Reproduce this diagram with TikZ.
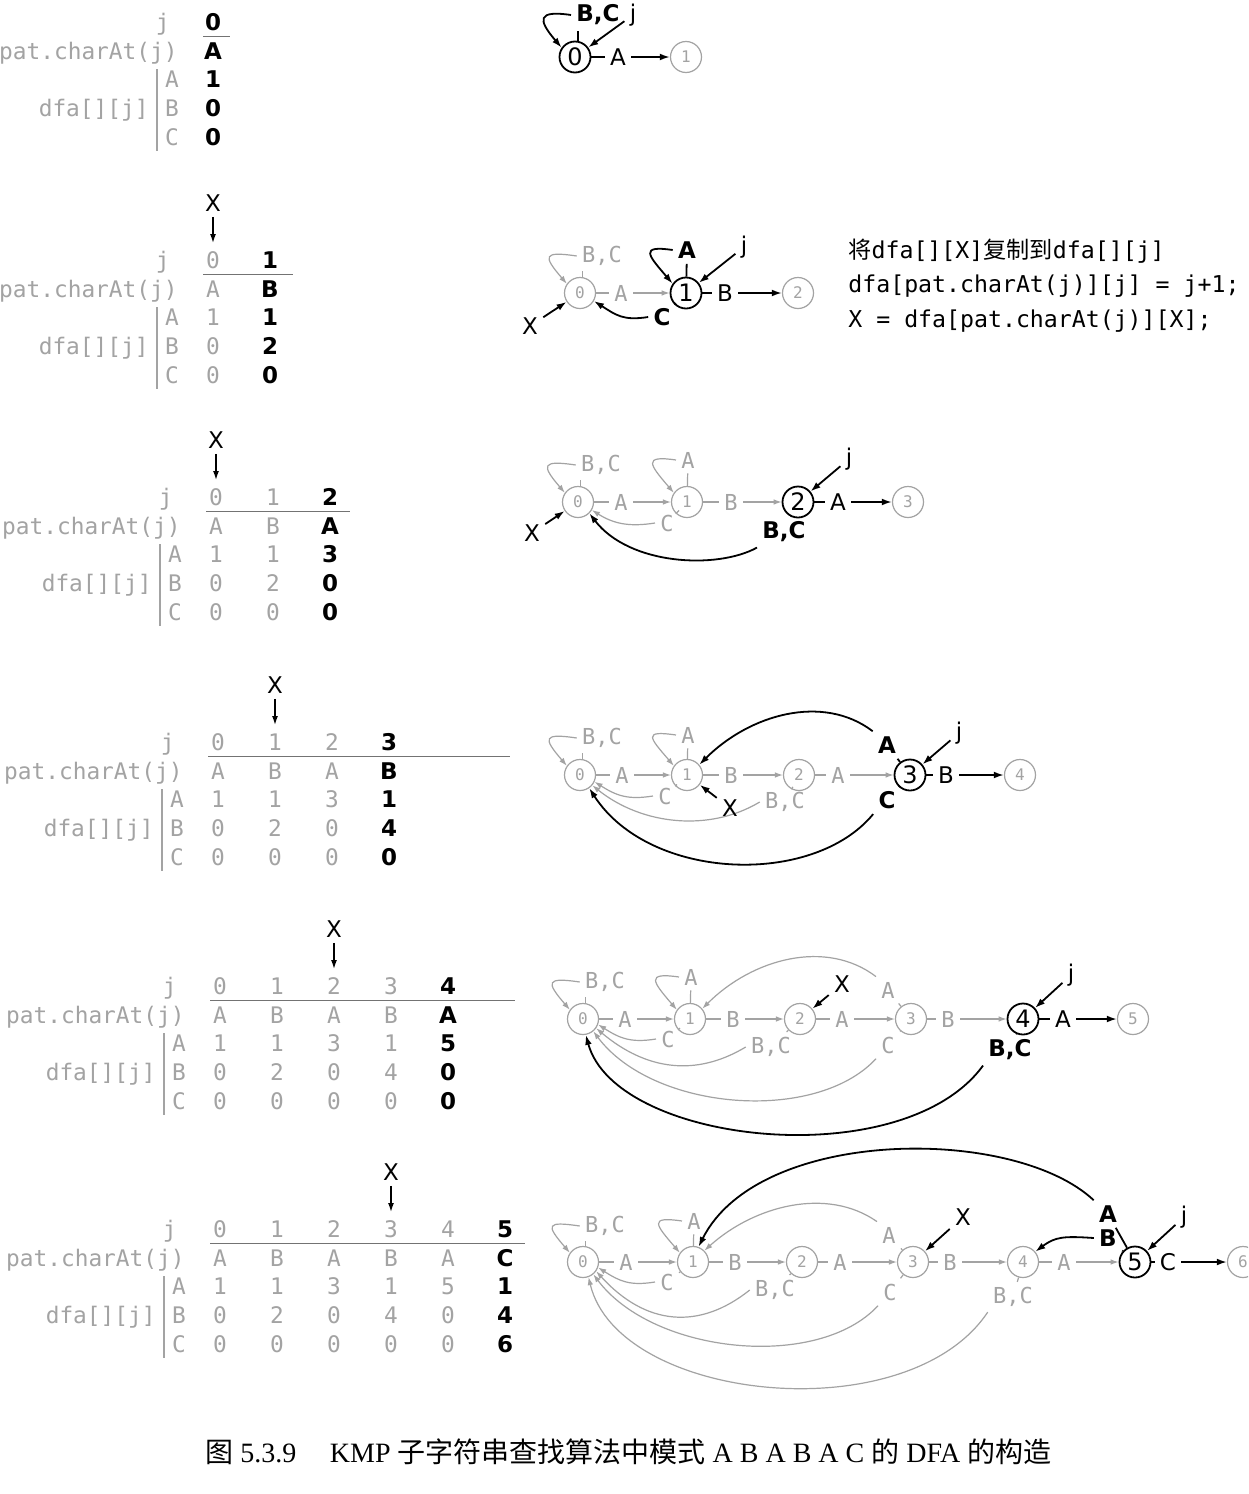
\documentclass[tikz,border=0pt]{standalone}
\usepackage{fontspec}
\setmainfont{Liberation Serif}
\newfontfamily\lab{DejaVu Sans}
\newfontfamily\mono{DejaVu Sans Mono}
\newfontfamily\cjk{Noto Sans CJK SC}
\usetikzlibrary{arrows.meta}
\definecolor{lg}{gray}{0.64}
\tikzset{
  stB/.style={circle,draw=black,line width=0.9pt,minimum size=15.5pt,inner sep=0pt,font=\lab\fontsize{12}{12}\selectfont},
  stG/.style={circle,draw=lg,line width=0.6pt,minimum size=15.5pt,inner sep=0pt,text=lg,font=\mono\fontsize{8}{8}\selectfont},
  lbG/.style={text=lg,font=\mono\fontsize{11}{11}\selectfont,inner sep=2.5pt},
  lbR/.style={font=\lab\fontsize{11.5}{11.5}\selectfont,inner sep=2.5pt},
  lbB/.style={font=\lab\bfseries\fontsize{11.5}{11.5}\selectfont,inner sep=2.5pt},
  eG/.style={draw=lg,line width=0.6pt},
  eB/.style={draw=black,line width=0.9pt},
  aG/.style={eG,-{Latex[length=4pt,width=2.8pt]}},
  aB/.style={eB,-{Latex[length=5pt,width=3.4pt]}},
  aX/.style={draw=black,line width=0.7pt,-{Latex[length=4.5pt,width=3pt]}},
  tG/.style={text=lg,font=\mono\fontsize{11.4}{11.4}\selectfont,inner sep=0pt,anchor=base},
  tB/.style={font=\lab\bfseries\fontsize{11.5}{11.5}\selectfont,inner sep=0pt,anchor=base},
  code/.style={font=\mono\fontsize{11.6}{11.6}\selectfont,inner sep=0pt,anchor=base west},
}
% table: #1 prefix, #2 x0, #3 yj, #4 current column, #5 rule end (relative)
\newcommand\kmptab[5]{%
\begin{scope}[shift={(#2,#3)}]
 \node[tG,anchor=base east] (#1j) at (-43,8.5) {j};
 \node[tG,anchor=base east] (#1p) at (-35,37.5) {pat.charAt(j)};
 \node[tG,anchor=base east] (#1d) at (-64,94.5) {dfa[][j]};
 \node[tG] (#1ra) at (-41,65.5) {A};
 \node[tG] (#1rb) at (-41,94.5) {B};
 \node[tG] (#1rc) at (-41,123.5) {C};
 \draw[lg,line width=1.1pt] (-56,47) -- (-56,129);
 \draw[black!55,line width=0.5pt] (-10,14) -- (#5,14);
 \foreach \k/\pc/\va/\vb/\vc in {0/A/1/0/0,1/B/1/2/0,2/A/3/0/0,3/B/1/4/0,4/A/5/0/0,5/C/1/4/6}{
   \ifnum\k<#4
     \node[tG] (#1c\k j) at ({57*\k},8.5) {\k};
     \node[tG] (#1c\k p) at ({57*\k},37.5) {\pc};
     \node[tG] (#1c\k a) at ({57*\k},65.5) {\va};
     \node[tG] (#1c\k b) at ({57*\k},94.5) {\vb};
     \node[tG] (#1c\k c) at ({57*\k},123.5) {\vc};
   \else\ifnum\k=#4
     \node[tB] (#1c\k j) at ({57*\k},8.5) {\k};
     \node[tB] (#1c\k p) at ({57*\k},37.5) {\pc};
     \node[tB] (#1c\k a) at ({57*\k},65.5) {\va};
     \node[tB] (#1c\k b) at ({57*\k},94.5) {\vb};
     \node[tB] (#1c\k c) at ({57*\k},123.5) {\vc};
   \fi\fi
 }
\end{scope}}
% X marker above a table column: #1 prefix, #2 x, #3 yj
\newcommand\tabX[3]{%
 \node[lbR] (#1X) at (#2,#3-57) {X};
 \coordinate (#1Xt) at (#2,#3-17);
 \draw[aX] (#1X) -- (#1Xt);}
% self loop: #1 style, #2 label node, #3 state node
\newcommand\sloop[3]{\draw[#1] (#2.west) .. controls +(-34,-5) and +(-24,-28) .. (#3.145);}
\begin{document}
\begin{tikzpicture}[x=0.5pt,y=-0.5pt]
\useasboundingbox (0,0) rectangle (1248,1494);
\fill[white] (0,0) rectangle (1248,1494);
\clip (0,0) rectangle (1248,1494);

% ---------------- tables ----------------
\kmptab{tA}{213}{22}{0}{17}
\kmptab{tB}{213}{260}{1}{80}
\kmptab{tC}{216}{497}{2}{134}
\kmptab{tD}{218}{742}{3}{292}
\kmptab{tE}{220}{986}{4}{295}
\kmptab{tF}{220}{1229}{5}{305}
\tabX{tB}{213}{260}
\tabX{tC}{216}{497}
\tabX{tD}{275}{742}
\tabX{tE}{334}{986}
\tabX{tF}{391}{1229}

% ---------------- stage 0 ----------------
\node[stB] (a0) at (575,57) {0};
\node[stG] (a1) at (686,57) {1};
\node[lbR] (a0A) at (618,57) {A};
\draw[eB] (a0) -- (a0A); \draw[aB] (a0A) -- (a1);
\node[lbB] (a0L) at (598,15) {B,C};
\draw[eB] (a0.80) -- (a0.80 |- a0L.south);
\sloop{aB}{a0L}{a0}
\node[lbR] (aj) at (633,15) {j};
\draw[aB] (aj) -- (a0);

% ---------------- stage 1 ----------------
\node[stG] (b0) at (580,293) {0};
\node[stB] (b1) at (686,293) {1};
\node[stG] (b2) at (798,293) {2};
\node[lbG] (b0L) at (602,256) {B,C};
\draw[eG] (b0.80) -- (b0.80 |- b0L.south);
\sloop{aG}{b0L}{b0}
\node[lbG] (b0A) at (621,293) {A};
\draw[eG] (b0) -- (b0A); \draw[aG] (b0A) -- (b1);
\node[lbB] (b1L) at (687,250) {A};
\draw[eB] (b1) -- (b1L);
\sloop{aB}{b1L}{b1}
\node[lbR] (bj) at (744,247) {j};
\draw[aB] (bj) -- (b1);
\node[lbR] (b1B) at (725,293) {B};
\draw[eB] (b1) -- (b1B); \draw[aB] (b1B) -- (b2);
\node[lbB] (b1C) at (662,317) {C};
\draw[eB] (b1) -- (b1C);
\draw[aB] (b1C.west) .. controls +(-25,4) and +(22,14) .. (b0.-30);
\node[lbR] (bX) at (530,326) {X};
\draw[aB] (bX) -- (b0);
\node[code] (code1) at (848,258) {{\cjk 将}dfa[][X]{\cjk 复制到}dfa[][j]};
\node[code] (code2) at (848,292) {dfa[pat.charAt(j)][j] = j+1;};
\node[code] (code3) at (848,327) {X = dfa[pat.charAt(j)][X];};

% ---------------- stage 2 ----------------
\node[stG] (c0) at (578,502) {0};
\node[stG] (c1) at (687,502) {1};
\node[stB] (c2) at (798,502) {2};
\node[stG] (c3) at (908,502) {3};
\node[lbG] (c0L) at (601,465) {B,C};
\draw[eG] (c0.80) -- (c0.80 |- c0L.south);
\sloop{aG}{c0L}{c0}
\node[lbG] (c0A) at (621,502) {A};
\draw[eG] (c0) -- (c0A); \draw[aG] (c0A) -- (c1);
\node[lbG] (c1L) at (688,460) {A};
\draw[eG] (c1) -- (c1L);
\sloop{aG}{c1L}{c1}
\node[lbG] (c1C) at (667,523) {C};
\draw[eG] (c1) -- (c1C);
\draw[aG] (c1C.west) .. controls +(-25,4) and +(22,14) .. (c0.-30);
\node[lbG] (c1B) at (731,502) {B};
\draw[eG] (c1) -- (c1B); \draw[aG] (c1B) -- (c2);
\node[lbR] (cj) at (849,459) {j};
\draw[aB] (cj) -- (c2);
\node[lbR] (c2A) at (838,502) {A};
\draw[eB] (c2) -- (c2A); \draw[aB] (c2A) -- (c3);
\node[lbB] (c2BC) at (784,532) {B,C};
\draw[eB] (c2) -- (c2BC);
\draw[aB] (c2BC.south west) .. controls +(-40,22) and +(40,52) .. (c0.-45);
\node[lbR] (cX) at (532,533) {X};
\draw[aB] (cX) -- (c0);

% ---------------- stage 3 ----------------
\node[stG] (d0) at (580,775) {0};
\node[stG] (d1) at (687,775) {1};
\node[stG] (d2) at (799,775) {2};
\node[stB] (d3) at (910,775) {3};
\node[stG] (d4) at (1020,775) {4};
\node[lbG] (d0L) at (602,738) {B,C};
\draw[eG] (d0.80) -- (d0.80 |- d0L.south);
\sloop{aG}{d0L}{d0}
\node[lbG] (d0A) at (622,775) {A};
\draw[eG] (d0) -- (d0A); \draw[aG] (d0A) -- (d1);
\node[lbG] (d1L) at (688,735) {A};
\draw[eG] (d1) -- (d1L);
\sloop{aG}{d1L}{d1}
\node[lbG] (d1C) at (665,796) {C};
\draw[eG] (d1) -- (d1C);
\draw[aG] (d1C.west) .. controls +(-25,4) and +(22,14) .. (d0.-25);
\node[lbG] (d1B) at (731,775) {B};
\draw[eG] (d1) -- (d1B); \draw[aG] (d1B) -- (d2);
\node[lbG] (d2A) at (838,775) {A};
\draw[eG] (d2) -- (d2A); \draw[aG] (d2A) -- (d3);
\node[lbG] (d2BC) at (785,802) {B,C};
\draw[eG] (d2) -- (d2BC);
\draw[aG] (d2BC.west) .. controls +(-50,30) and +(50,40) .. (d0.-40);
\node[lbR] (d3B) at (946,775) {B};
\draw[eB] (d3) -- (d3B); \draw[aB] (d3B) -- (d4);
\node[lbR] (dj) at (959,733) {j};
\draw[aB] (dj) -- (d3);
\node[lbB] (d3A) at (887,745) {A};
\draw[eB] (d3) -- (d3A);
\draw[aB] (d3A.north west) .. controls +(-50,-38) and +(50,-50) .. (d1.40);
\node[lbB] (d3C) at (887,800) {C};
\draw[eB] (d3) -- (d3C);
\draw[aB] (d3C.south west) .. controls +(-60,73) and +(60,93) .. (d0.-55);
\node[lbR] (dX) at (730,808) {X};
\draw[aB] (dX) -- (d1);

% ---------------- stage 4 ----------------
\node[stG] (e0) at (583,1019) {0};
\node[stG] (e1) at (690,1019) {1};
\node[stG] (e2) at (800,1019) {2};
\node[stG] (e3) at (911,1019) {3};
\node[stB] (e4) at (1023,1019) {4};
\node[stG] (e5) at (1133,1019) {5};
\node[lbG] (e0L) at (605,982) {B,C};
\draw[eG] (e0.80) -- (e0.80 |- e0L.south);
\sloop{aG}{e0L}{e0}
\node[lbG] (e0A) at (625,1019) {A};
\draw[eG] (e0) -- (e0A); \draw[aG] (e0A) -- (e1);
\node[lbG] (e1L) at (691,977) {A};
\draw[eG] (e1) -- (e1L);
\sloop{aG}{e1L}{e1}
\node[lbG] (e1C) at (668,1039) {C};
\draw[eG] (e1) -- (e1C);
\draw[aG] (e1C.west) .. controls +(-25,4) and +(22,14) .. (e0.-20);
\node[lbG] (e1B) at (733,1019) {B};
\draw[eG] (e1) -- (e1B); \draw[aG] (e1B) -- (e2);
\node[lbG] (e2A) at (842,1019) {A};
\draw[eG] (e2) -- (e2A); \draw[aG] (e2A) -- (e3);
\node[lbG] (e2BC) at (771,1047) {B,C};
\draw[eG] (e2) -- (e2BC);
\draw[aG] (e2BC.west) .. controls +(-50,30) and +(50,42) .. (e0.-35);
\node[lbG] (e3B) at (948,1019) {B};
\draw[eG] (e3) -- (e3B); \draw[aG] (e3B) -- (e4);
\node[lbG] (e3A) at (888,990) {A};
\draw[eG] (e3) -- (e3A);
\draw[aG] (e3A.north west) .. controls +(-50,-38) and +(50,-50) .. (e1.40);
\node[lbG] (e3C) at (888,1045) {C};
\draw[eG] (e3) -- (e3C);
\draw[aG] (e3C.south west) .. controls +(-60,65) and +(60,80) .. (e0.-50);
\node[lbR] (e4A) at (1063,1019) {A};
\draw[eB] (e4) -- (e4A); \draw[aB] (e4A) -- (e5);
\node[lbR] (ej) at (1071,975) {j};
\draw[aB] (ej) -- (e4);
\node[lbR] (eX) at (842,984) {X};
\draw[aB] (eX) -- (e2);
\node[lbB] (e4BC) at (1010,1050) {B,C};
\draw[eB] (e4) -- (e4BC);
\draw[aB] (e4BC.south west) .. controls +(-80,110) and +(30,110) .. (e0.-80);

% ---------------- stage 5 ----------------
\node[stG] (f0) at (583,1262) {0};
\node[stG] (f1) at (693,1262) {1};
\node[stG] (f2) at (802,1262) {2};
\node[stG] (f3) at (913,1262) {3};
\node[stG] (f4) at (1023,1262) {4};
\node[stB] (f5) at (1135,1262) {5};
\node[stG] (f6) at (1243,1262) {6};
\node[lbG] (f0L) at (605,1226) {B,C};
\draw[eG] (f0.80) -- (f0.80 |- f0L.south);
\sloop{aG}{f0L}{f0}
\node[lbG] (f0A) at (626,1262) {A};
\draw[eG] (f0) -- (f0A); \draw[aG] (f0A) -- (f1);
\node[lbG] (f1L) at (694,1221) {A};
\draw[eG] (f1) -- (f1L);
\sloop{aG}{f1L}{f1}
\node[lbG] (f1C) at (667,1282) {C};
\draw[eG] (f1) -- (f1C);
\draw[aG] (f1C.west) .. controls +(-25,4) and +(22,14) .. (f0.-20);
\node[lbG] (f1B) at (735,1262) {B};
\draw[eG] (f1) -- (f1B); \draw[aG] (f1B) -- (f2);
\node[lbG] (f2A) at (840,1262) {A};
\draw[eG] (f2) -- (f2A); \draw[aG] (f2A) -- (f3);
\node[lbG] (f2BC) at (775,1290) {B,C};
\draw[eG] (f2) -- (f2BC);
\draw[aG] (f2BC.west) .. controls +(-50,40) and +(50,55) .. (f0.-35);
\node[lbG] (f3B) at (950,1262) {B};
\draw[eG] (f3) -- (f3B); \draw[aG] (f3B) -- (f4);
\node[lbG] (f3A) at (889,1235) {A};
\draw[eG] (f3) -- (f3A);
\draw[aG] (f3A.north west) .. controls +(-50,-35) and +(50,-45) .. (f1.45);
\node[lbG] (f3C) at (890,1292) {C};
\draw[eG] (f3) -- (f3C);
\draw[aG] (f3C.south west) .. controls +(-60,65) and +(60,80) .. (f0.-50);
\node[lbG] (f4A) at (1064,1262) {A};
\draw[eG] (f4) -- (f4A); \draw[aG] (f4A) -- (f5);
\node[lbG] (f4BC) at (1013,1297) {B,C};
\draw[eG] (f4) -- (f4BC);
\draw[aG] (f4BC.south west) .. controls +(-80,120) and +(30,125) .. (f0.-70);
\node[lbR] (f5C) at (1168,1262) {C};
\draw[eB] (f5) -- (f5C); \draw[aB] (f5C) -- (f6);
\node[lbR] (fj) at (1184,1217) {j};
\draw[aB] (fj) -- (f5);
\node[lbR] (fX) at (963,1217) {X};
\draw[aB] (fX) -- (f3);
\node[lbB] (f5A) at (1108,1214) {A};
\draw[eB] (f5) -- (f5A);
\draw[aB] (f5A.north west) .. controls +(-80,-75) and +(60,-120) .. (f1.70);
\node[lbB] (f5B) at (1108,1238) {B};
\draw[eB] (f5) -- (f5B);
\draw[aB] (f5B.west) .. controls +(-30,-2) and +(20,-15) .. (f4.40);

% ---------------- caption ----------------
\node[anchor=base west,inner sep=0pt,font=\fontsize{14}{14}\selectfont] (cap) at (205,1462)
 {{\cjk 图} 5.3.9\hspace{1.2em}KMP {\cjk 子字符串查找算法中模式} A B A B A C {\cjk 的} DFA {\cjk 的构造}};
\end{tikzpicture}
\end{document}
